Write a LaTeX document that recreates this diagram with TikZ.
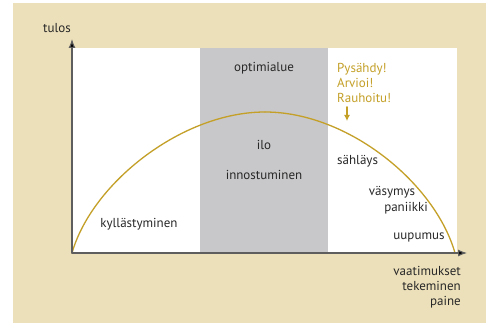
\documentclass[tikz,border=0pt]{standalone}
\usepackage{fontspec}
\setmainfont{PT Sans}
\usetikzlibrary{arrows.meta}
\definecolor{beige}{RGB}{236,224,186}
\definecolor{band}{RGB}{200,200,202}
\definecolor{gold}{RGB}{196,160,40}
\definecolor{ink}{RGB}{40,40,40}
\tikzset{
  lbl/.style={text=ink,inner sep=0pt,font=\fontsize{13}{15}\selectfont},
  axis/.style={draw=ink!75,line width=1.1pt,-{Latex[length=9pt,width=7pt,fill=black]}},
}
\begin{document}
\begin{tikzpicture}[x=1pt,y=1pt,>=latex,line join=round,line cap=round]
				\def\leftpart{(72,71) .. controls (92,141) and (182,212) .. (265,212)}
				\def\rightpart{(265,212) .. controls (348,212) and (435,141) .. (455,71)}
				\useasboundingbox (0,0) rectangle (486,324);
				\fill[beige] (13,1) rectangle (486,321);
				\fill[white] (72,71) rectangle (457,276);
				\fill[band] (200,71) rectangle (328,276);
				\coordinate (o) at (72,71);
				\coordinate (ytip) at (72,285);
				\coordinate (xtip) at (467,71);
				\draw[gold,line width=1.3pt] \leftpart;
				\draw[gold,line width=1.3pt] \rightpart;
				\draw[axis] (o) -- (ytip);
				\draw[axis] (o) -- (xtip);
				\node[lbl] (tulos) at (57,296) {tulos};
				\node[lbl] (optimi) at (264,256) {optimialue};
				\node[lbl,text=gold,align=left,anchor=west] (stop) at (337,241) {Pysähdy!\\Arvioi!\\Rauhoitu!};
				\coordinate (stopend) at (347,203);
				\draw[gold,line width=1.2pt,-{Latex[length=6pt,width=6pt]}] (stop.south west) ++(10,-4) -- (stopend);
				\node[lbl] (ilo) at (264,179) {ilo};
				\node[lbl] (innost) at (264,149) {innostuminen};
				\node[lbl,anchor=west] (sahl) at (337,163) {sähläys};
				\node[lbl] (vasy) at (392,132) {väsymys};
				\node[lbl] (pani) at (406,116) {paniikki};
				\node[lbl] (uupu) at (419,87) {uupumus};
				\node[lbl] (kyll) at (139,100) {kyllästyminen};
				\node[lbl,align=right,anchor=north east] (vaat) at (461,58) {vaatimukset\\tekeminen\\paine};
		\end{tikzpicture}
\end{document}
